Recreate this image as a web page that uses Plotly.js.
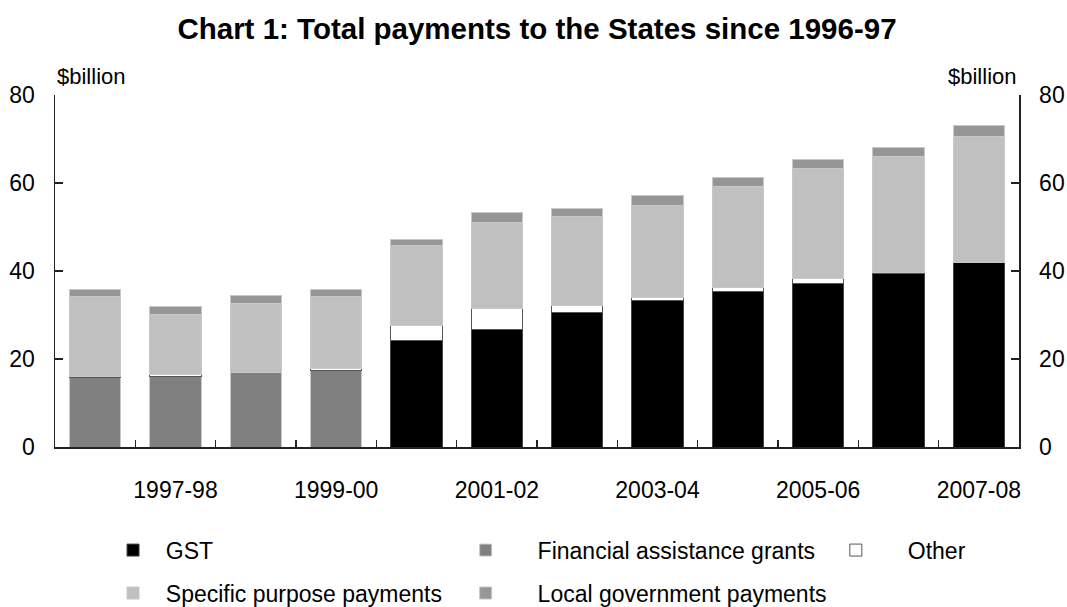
<!DOCTYPE html>
<html>
<head>
<meta charset="utf-8">
<script src="https://cdn.plot.ly/plotly-3.0.1.min.js"></script>
<style>html,body{margin:0;padding:0;background:#fff;}#chart{width:1067px;height:607px;}</style>
</head>
<body>
<div id="chart"></div>
<script>
const years = ["1996-97","1997-98","1998-99","1999-00","2000-01","2001-02","2002-03","2003-04","2004-05","2005-06","2006-07","2007-08"];
const tickLabels = ["","1997-98","","1999-00","","2001-02","","2003-04","","2005-06","","2007-08"];
const gst = [null,null,null,null,24.3,26.6,30.6,33.3,35.3,37.2,39.5,41.9];
const fag = [15.7,16.0,16.9,17.3,null,null,null,null,null,null,null,null];
const other = [0.4,0.5,0.1,0.6,3.3,4.8,1.6,0.6,0.9,1.1,0.1,0.1];
const spp = [18.0,13.7,15.6,16.4,18.1,19.7,20.3,21.1,23.1,25.0,26.5,28.6];
const lgp = [1.6,1.7,1.8,1.6,1.4,2.1,1.7,2.1,1.9,2.1,2.0,2.5];
const yTicks = [0,20,40,60,80];

const FONT = "Liberation Sans, Arial, sans-serif";
const lineGrey = {color:"#c8c8c8", width:1};
const NB = "\u00a0";

function bar(name, y, color, legend, line){
  return {type:"bar", name:name, x:years, y:y, legend:legend,
          marker:{color:color, line:line||lineGrey}, hoverinfo:"skip"};
}
const traces = [
  bar(NB+NB+"GST", gst, "#000000", "legend", {color:"#444", width:1}),
  bar(NB.repeat(5)+"Financial assistance grants", fag, "#808080", "legend2"),
  bar(NB.repeat(5)+"Other", other, "#ffffff", "legend3", {color:"#555", width:1}),
  bar(NB+NB+"Specific purpose payments", spp, "#c0c0c0", "legend4"),
  bar(NB.repeat(5)+"Local government payments", lgp, "#969696", "legend5"),
  {type:"bar", x:[], y:[], yaxis:"y2", showlegend:false, hoverinfo:"skip"}
];

const legFont = {family:FONT, size:23, color:"#000"};
function leg(x, y){
  return {x:x, y:y, xref:"paper", yref:"paper", xanchor:"left", yanchor:"middle",
          orientation:"v", font:legFont, bgcolor:"rgba(0,0,0,0)", borderwidth:0};
}

const layout = {
  width:1067, height:607,
  margin:{l:55, r:48, t:95, b:160, autoexpand:false},
  paper_bgcolor:"#fff", plot_bgcolor:"#fff",
  font:{family:FONT, size:23, color:"#000"},
  title:{text:"<b>Chart 1: Total payments to the States since 1996-97</b>",
         font:{family:FONT, size:29.5, color:"#000"},
         x:0.5, xref:"paper", xanchor:"center", y:0.952, yref:"container", yanchor:"middle"},
  barmode:"stack", bargap:0.36,
  xaxis:{type:"category", tickvals:years, ticktext:tickLabels, tickson:"boundaries", tickangle:0,
         ticks:"inside", ticklen:7, tickcolor:"#222", tickwidth:1.3,
         showline:true, linecolor:"#222", linewidth:1.5, showgrid:false, zeroline:false,
         ticklabelstandoff:22, tickfont:{family:FONT, size:23, color:"#000"}},
  yaxis:{range:[0,80], tickvals:yTicks, ticks:"inside", ticklen:8, tickcolor:"#222", tickwidth:1.3,
         showline:true, linecolor:"#222", linewidth:1.5, showgrid:false, zeroline:false,
         ticklabelstandoff:14, tickfont:{family:FONT, size:23, color:"#000"}},
  yaxis2:{range:[0,80], tickvals:yTicks, overlaying:"y", side:"right", ticks:"inside", ticklen:8,
          tickcolor:"#222", tickwidth:1.3, showline:true, linecolor:"#222", linewidth:1.5,
          showgrid:false, zeroline:false, ticklabelstandoff:14,
          tickfont:{family:FONT, size:23, color:"#000"}},
  legend: leg(0.0602, -0.293),
  legend2: leg(0.426, -0.293),
  legend3: leg(0.810, -0.293),
  legend4: leg(0.0602, -0.415),
  legend5: leg(0.426, -0.415),
  annotations:[
    {text:"$billion", xref:"paper", yref:"paper", x:0, y:1, xanchor:"left", yanchor:"bottom",
     yshift:4, showarrow:false, font:{family:FONT, size:22, color:"#000"}},
    {text:"$billion", xref:"paper", yref:"paper", x:1, y:1, xanchor:"right", yanchor:"bottom",
     yshift:4, showarrow:false, font:{family:FONT, size:22, color:"#000"}}
  ],
  showlegend:true
};

Plotly.newPlot("chart", traces, layout, {staticPlot:true, displayModeBar:false});
</script>
</body>
</html>
